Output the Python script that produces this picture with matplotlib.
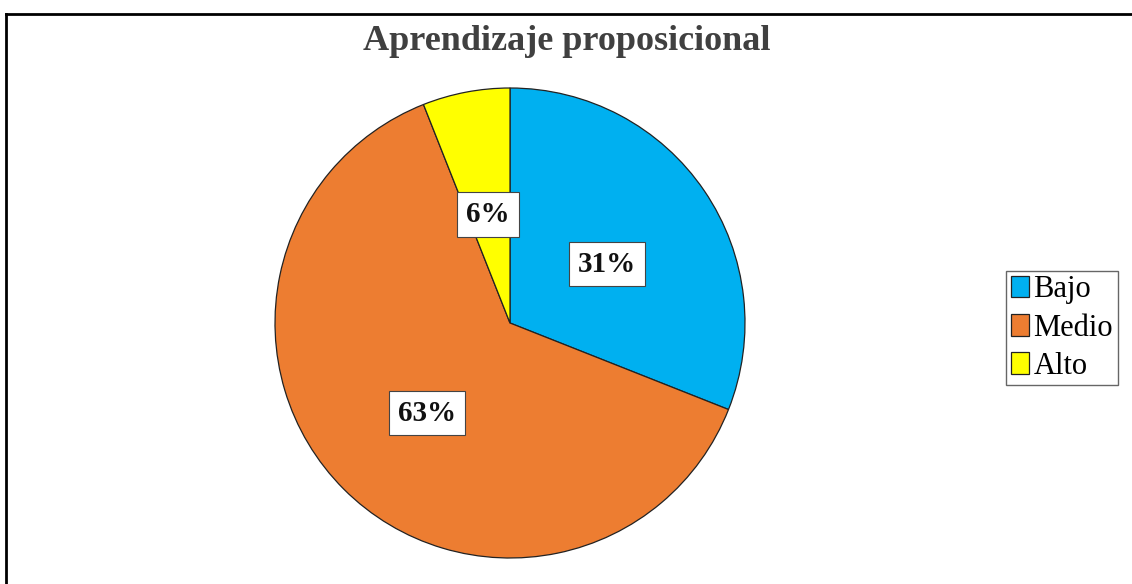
import matplotlib.pyplot as plt
from matplotlib.lines import Line2D

labels = ['Bajo', 'Medio', 'Alto']
values = [31, 63, 6]
colors = ['#00B0F0', '#ED7D31', '#FFFF00']

plt.rcParams['font.family'] = ['Liberation Serif', 'DejaVu Serif']

W, H = 1132, 584
fig = plt.figure(figsize=(W / 100, H / 100), dpi=100)

# pie axes: center (510, 323) px, radius ~235 px
cx, cy, r = 510, 323, 235
ax = fig.add_axes([(cx - r) / W, (H - cy - r) / H, 2 * r / W, 2 * r / H])
wedges, texts, autotexts = ax.pie(
    values, colors=colors, startangle=90, counterclock=False,
    autopct='%1.0f%%', pctdistance=0.5,
    wedgeprops=dict(edgecolor='#222222', linewidth=0.9))
for t in autotexts:
    t.set_fontsize(21)
    t.set_fontweight('bold')
    t.set_color('#111111')
    t.set_bbox(dict(boxstyle='square,pad=0.3', facecolor='white',
                    edgecolor='#444444', linewidth=0.8))
    x, y = t.get_position()
    t.set_position((x, y - 0.03))
ax.set_xlim(-1, 1)
ax.set_ylim(-1, 1)
ax.set_aspect('equal')

fig.text(567 / W, 1 - 42 / H, 'Aprendizaje proposicional', ha='center',
         va='center', fontsize=26, fontweight='bold', color='#404040')

leg = fig.legend(wedges, labels, loc='center left',
                 bbox_to_anchor=(1006 / W, 1 - 328 / H), fontsize=22,
                 handlelength=0.6, handleheight=0.7, handletextpad=0.15,
                 borderpad=0.15, labelspacing=0.3, borderaxespad=0,
                 fancybox=False, framealpha=1)
leg.get_frame().set_edgecolor('#666666')
leg.get_frame().set_linewidth(1.0)

# outer border (top and left only)
fig.add_artist(Line2D([6 / W, 1], [1 - 14 / H, 1 - 14 / H],
                      color='black', linewidth=2, transform=fig.transFigure))
fig.add_artist(Line2D([6 / W, 6 / W], [0, 1 - 14 / H],
                      color='black', linewidth=2, transform=fig.transFigure))

fig.savefig('out.png', dpi=100)
